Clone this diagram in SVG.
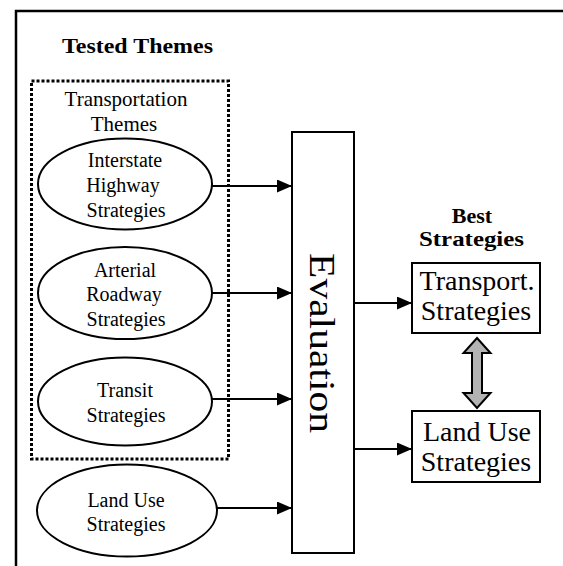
<svg xmlns="http://www.w3.org/2000/svg" width="563" height="566" viewBox="0 0 563 566">
<defs>
<style>
text{font-family:"Liberation Serif","Times New Roman",serif;fill:#000}
.t20{font-size:20px;text-anchor:middle}
.t21{font-size:21px;text-anchor:middle}
.t28{font-size:28px;text-anchor:middle}
.b{font-weight:bold}
.shape{fill:#fff;stroke:#000;stroke-width:2}
.conn{stroke:#000;stroke-width:2;fill:none;marker-end:url(#ah)}
</style>
<marker id="ah" markerUnits="userSpaceOnUse" markerWidth="16" markerHeight="14" refX="15" refY="6.5" orient="auto">
<path d="M0,0 L15,6.5 L0,13 z" fill="#000"/>
</marker>
</defs>
<rect width="563" height="566" fill="#fff"/>
<path d="M16,566 V11 H563" fill="none" stroke="#000" stroke-width="2.5"/>
<text class="b" x="62" y="53" font-size="22" textLength="151" lengthAdjust="spacingAndGlyphs">Tested Themes</text>

<g id="transportation-themes">
<rect x="31.5" y="81" width="197" height="378" fill="none" stroke="#000" stroke-width="3" stroke-dasharray="3 2"/>
<text class="t21" x="126" y="106">Transportation</text>
<text class="t21" x="124" y="131">Themes</text>
</g>

<g id="interstate">
<ellipse class="shape" cx="125" cy="184" rx="87" ry="45.5"/>
<text class="t20" x="125" y="167">Interstate</text>
<text class="t20" x="123" y="192">Highway</text>
<text class="t20" x="126" y="217">Strategies</text>
</g>
<g id="arterial">
<ellipse class="shape" cx="125" cy="293" rx="87" ry="46"/>
<text class="t20" x="125" y="277">Arterial</text>
<text class="t20" x="124" y="301">Roadway</text>
<text class="t20" x="126" y="326">Strategies</text>
</g>
<g id="transit">
<ellipse class="shape" cx="125" cy="401.5" rx="87" ry="44"/>
<text class="t20" x="125" y="397">Transit</text>
<text class="t20" x="126" y="422">Strategies</text>
</g>
<g id="landuse-theme">
<ellipse class="shape" cx="127" cy="510.5" rx="90" ry="46"/>
<text class="t20" x="126" y="507">Land Use</text>
<text class="t20" x="126" y="531">Strategies</text>
</g>

<g id="evaluation">
<rect class="shape" x="292" y="132" width="62" height="421"/>
<text transform="translate(310,343) rotate(90)" x="0" y="0" font-size="36" text-anchor="middle" textLength="180" lengthAdjust="spacingAndGlyphs">Evaluation</text>
</g>

<g id="best-label">
<text class="b" x="472" y="223" font-size="22" text-anchor="middle">Best</text>
<text class="b" x="471.5" y="246" font-size="22" text-anchor="middle" textLength="105" lengthAdjust="spacingAndGlyphs">Strategies</text>
</g>

<g id="transport-strategies">
<rect class="shape" x="412" y="263" width="128" height="70"/>
<text class="t28" x="477" y="290">Transport.</text>
<text class="t28" x="476" y="320">Strategies</text>
</g>
<g id="landuse-strategies">
<rect class="shape" x="412" y="411" width="128" height="71"/>
<text class="t28" x="477" y="441">Land Use</text>
<text class="t28" x="476" y="471">Strategies</text>
</g>

<g id="connectors">
<line class="conn" x1="212" y1="186" x2="292" y2="186"/>
<line class="conn" x1="212" y1="293" x2="292" y2="293"/>
<line class="conn" x1="212" y1="399" x2="292" y2="399"/>
<line class="conn" x1="217" y1="508" x2="292" y2="508"/>
<line class="conn" x1="354" y1="303" x2="412" y2="303"/>
<line class="conn" x1="354" y1="449" x2="412" y2="449"/>
<polygon points="477,338 490.5,353 482,353 482,393 490.5,393 477,408 463.5,393 472,393 472,353 463.5,353" fill="#b3b3b3" stroke="#000" stroke-width="2"/>
</g>
</svg>
